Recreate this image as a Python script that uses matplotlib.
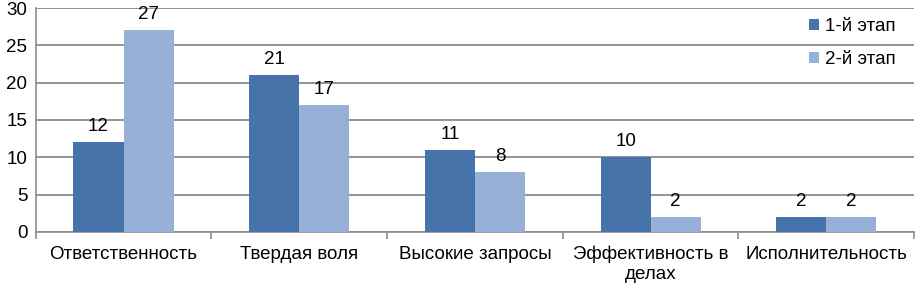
import matplotlib
matplotlib.use("Agg")
import matplotlib.pyplot as plt
import numpy as np

categories = ["Ответственность", "Твердая воля", "Высокие запросы", "Эффективность в\nделах", "Исполнительность"]
stage1 = [12, 21, 11, 10, 2]
stage2 = [27, 17, 8, 2, 2]
series_names = ["1-й этап", "2-й этап"]
yticks = [0, 5, 10, 15, 20, 25, 30]

plt.rcParams['font.family'] = ['Liberation Sans', 'DejaVu Sans']
FS = 13.5

fig = plt.figure(figsize=(9.16, 2.86), dpi=100)
ax = fig.add_axes([0.039, 0.189, 0.959, 0.783])

x = np.arange(len(categories))
w = 0.285
c1 = '#4673AA'
c2 = '#97B0D8'
b1 = ax.bar(x - w/2, stage1, w, color=c1, label=series_names[0], zorder=3)
b2 = ax.bar(x + w/2, stage2, w, color=c2, label=series_names[1], zorder=3)

for bars, vals in ((b1, stage1), (b2, stage2)):
    for r, v in zip(bars, vals):
        ax.annotate(str(v), (r.get_x() + r.get_width()/2, v), xytext=(0, 5),
                    textcoords='offset points', ha='center', va='bottom', fontsize=FS)

ax.set_xlim(-0.5, len(categories) - 0.5)
ax.set_ylim(0, 30)
ax.set_yticks(yticks)
ax.set_yticklabels([str(t) for t in yticks], fontsize=FS)
ax.yaxis.grid(True, color='#8c8c8c', linewidth=1.3, zorder=0)
ax.set_xticks(x)
ax.set_xticklabels(categories, fontsize=FS, linespacing=1.2)
ax.tick_params(axis='x', which='major', length=0, pad=10)
ax.set_xticks(np.arange(len(categories) + 1) - 0.5, minor=True)
ax.tick_params(axis='x', which='minor', length=5, color='#8c8c8c', width=1.2)
ax.tick_params(axis='y', length=0, pad=6)

for s in ('top', 'right'):
    ax.spines[s].set_visible(False)
ax.spines['left'].set_color('#8c8c8c')
ax.spines['bottom'].set_color('#8c8c8c')
ax.spines['left'].set_linewidth(1.2)
ax.spines['bottom'].set_linewidth(1.2)

ax.legend(loc='upper right', bbox_to_anchor=(0.998, 1.03), frameon=False, fontsize=FS,
          handlelength=0.55, handleheight=0.55, handletextpad=0.3, labelspacing=0.85)

fig.savefig('out.png', dpi=100)
